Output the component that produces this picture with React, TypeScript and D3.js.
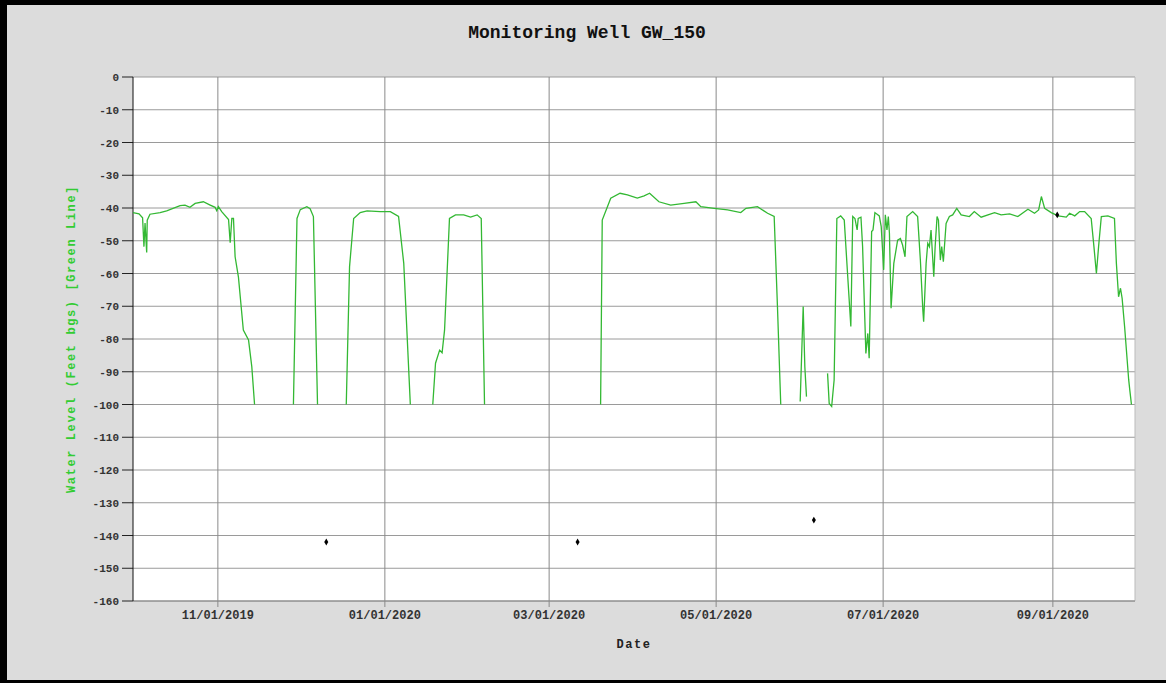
import React from "react";
import * as d3 from "d3";

const title = "Monitoring Well GW_150";
const xLabel = "Date";
const yLabel = "Water Level (Feet bgs) [Green Line]";
const startDate = "10/01/2019";
const endDate = "10/01/2020";
const xTickLabels = ["11/01/2019", "01/01/2020", "03/01/2020", "05/01/2020", "07/01/2020", "09/01/2020"];
const yTicks = [0, -10, -20, -30, -40, -50, -60, -70, -80, -90, -100, -110, -120, -130, -140, -150, -160];

// days since start date, null level = gap in the record
const days = [
  0, 2.2, 3.5, 4.0, 4.4, 5.0, 5.2, 6.2, 9.9, 12.3, 17.2, 19.0, 20.8, 22.7, 25.7, 28.2, 30.0, 30.6, 31.2, 32.4,
  34.9, 35.5, 36.1, 36.7, 37.3, 38.5, 40.3, 42.2, 43.4, 44.4, 50,
  58.6, 59.9, 61.1, 63.5, 64.7, 65.9, 67.4, 72,
  77.9, 79.1, 80.6, 83.0, 85.5, 90.3, 94.0, 97.0, 98.9, 101.3, 105,
  109.5, 110.5, 112.0, 112.9, 113.8, 115.6, 117.8, 120.8, 123.3, 125.7, 127.2, 128.4, 150,
  170.8, 171.4, 174.5, 177.9, 180.6, 184.2, 186.7, 188.7, 192.1, 196.4, 201.3, 205.6, 207.4, 212.3, 217.2,
  222.0, 223.9, 228.1, 231.8, 234.2, 235.4, 236.6, 240,
  243.7, 244.8, 245.4, 246.0, 250,
  253.7, 254.3, 255.2, 256.1, 257.1, 258.5, 259.8, 261.0, 262.2, 262.9, 263.7, 264.5, 264.9, 265.9, 266.5,
  267.7, 268.4, 268.9, 269.8, 270.3, 271.0, 272.6, 273.3, 274.2, 274.8, 275.4, 275.9, 276.3, 276.9, 277.9,
  279.3, 280.3, 281.1, 282.0, 282.7, 284.8, 286.6, 287.6, 288.5, 288.8, 289.7, 290.3, 290.9, 291.5, 292.5,
  293.0, 293.7, 294.2, 294.9, 295.4, 296.0, 297.0, 298.2, 299.4, 300.9, 302.5, 305.5, 307.3, 309.8, 314.7,
  317.1, 320.2, 323.2, 326.9, 329.3, 330.8, 331.8, 333.0, 335.4, 337.9, 340.9, 342.1, 344.0, 345.8, 347.6,
  350.0, 351.0, 351.9, 352.7, 353.7, 356.1, 358.5, 359.2, 360.0, 360.7, 361.3, 362.2, 363.7, 364.1, 364.7,
];
const levels = [
  -41.4, -41.8, -43, -51.8, -44.6, -53.6, -43.7, -41.9, -41.4, -40.9, -39.3, -39.1, -39.8, -38.6, -38.1, -39.1, -39.8, -40.8, -39.6, -41.1,
  -43.5, -50.6, -43.2, -43.2, -54.9, -61, -77.3, -80.3, -88.5, -100, null,
  -100, -43.2, -40.5, -39.6, -40.2, -42.6, -100, null,
  -100, -57.9, -43.2, -41.4, -40.9, -41.1, -41.1, -42.6, -56.9, -100, null,
  -100, -87.4, -83.4, -84.2, -77.3, -43.2, -42.1, -42.1, -42.8, -42.1, -43.2, -100, null,
  -100, -43.7, -37.0, -35.5, -36.0, -37.0, -36.3, -35.5, -38.1, -39.1, -38.6, -38.1, -39.6, -40.1, -40.6,
  -41.4, -40.1, -39.6, -41.6, -42.6, -70.1, -100, null,
  -99.1, -70.1, -88.5, -97.6, null,
  -90.5, -99.7, -100.6, -92.5, -43.2, -42.4, -43.7, -60, -76.2, -42.6, -43.2, -46.7, -43.2, -42.8, -51.8,
  -84.4, -78.3, -85.9, -47.2, -46.7, -41.4, -42.4, -45.7, -58.9, -42.1, -46.7, -42.6, -47.7, -70.6, -56.9,
  -49.8, -49.3, -51.3, -54.9, -42.6, -41.1, -42.6, -55.9, -71.1, -74.7, -56.9, -50.8, -51.8, -46.7, -61,
  -51.8, -42.6, -43.7, -55.9, -51.8, -56.4, -44.7, -42.6, -42.1, -40.1, -42.1, -42.6, -41.1, -42.8, -41.4,
  -42.1, -41.8, -42.6, -40.4, -41.6, -40.6, -36.5, -40.1, -41.4, -42.4, -42.8, -41.6, -42.4, -41.1, -41.1,
  -43.2, -51.8, -60, -51.8, -42.6, -42.4, -43.2, -56.9, -67.1, -64.5, -67.6, -76.2, -92.5, -95.6, -100,
];

// black point readings
const pointDays = [70.6, 162.4, 248.7, 337.6];
const pointLevels = [-142, -142, -135.3, -42.1];

const W = 1166;
const H = 683;
const margin = { left: 133, right: 31, top: 77, bottom: 82 };
const font = "'Liberation Mono', 'Courier New', monospace";

export default function App() {
  const parse = d3.timeParse("%m/%d/%Y");
  const t0 = parse(startDate)!;
  const t1 = parse(endDate)!;
  const toDate = (d: number) => new Date(t0.getTime() + d * 86400000);

  const x = d3.scaleTime().domain([t0, t1]).range([margin.left, W - margin.right]);
  const y = d3.scaleLinear().domain([-160, 0]).range([H - margin.bottom, margin.top]);

  const rows = days.map((d, i) => ({ date: toDate(d), level: levels[i] }));
  const line = d3
    .line<{ date: Date; level: number | null }>()
    .defined((d) => d.level !== null)
    .x((d) => x(d.date))
    .y((d) => y(d.level as number));

  const diamond = d3.symbol(d3.symbolDiamond, 14)();
  const xTicks = xTickLabels.map((s) => parse(s)!);
  const [x0, x1] = x.range();
  const [yb, yt] = y.range();

  return (
    <svg width={W} height={H} style={{ position: "absolute", left: 0, top: 0 }}>
      <rect x={0} y={0} width={W} height={H} fill="#dcdcdc" />
      <rect x={0} y={0} width={W} height={5} fill="#000" />
      <rect x={0} y={0} width={7} height={H} fill="#000" />
      <rect x={0} y={H - 3} width={W} height={3} fill="#000" />

      <text x={587} y={38} textAnchor="middle" fontFamily={font} fontWeight="bold" fontSize={18} fill="#111">
        {title}
      </text>

      <rect x={x0} y={yt} width={x1 - x0} height={yb - yt} fill="#fff" />

      {yTicks.map((v) => (
        <g key={v}>
          <line x1={x0} x2={x1} y1={y(v)} y2={y(v)} stroke="#9a9a9a" />
          <line x1={x0 - 11} x2={x0} y1={y(v)} y2={y(v)} stroke="#222" />
          <text x={x0 - 14} y={y(v) + 4} textAnchor="end" fontFamily={font} fontWeight="bold" fontSize={11} fill="#333">
            {v}
          </text>
        </g>
      ))}

      {xTicks.map((t, i) => (
        <g key={i}>
          <line x1={x(t)} x2={x(t)} y1={yt} y2={yb + 6} stroke="#8a8a8a" />
          <text x={x(t)} y={yb + 18} textAnchor="middle" fontFamily={font} fontWeight="bold" fontSize={12} fill="#333">
            {xTickLabels[i]}
          </text>
        </g>
      ))}

      <line x1={x1} x2={x1} y1={yt} y2={yb} stroke="#bbb" />
      <line x1={x0} x2={x1} y1={yb} y2={yb} stroke="#888" />
      <line x1={x0} x2={x0} y1={yt} y2={yb} stroke="#111" />

      <path d={line(rows) || ""} fill="none" stroke="#33b833" strokeWidth={1.3} />

      {pointDays.map((d, i) => (
        <path key={i} d={diamond || ""} transform={`translate(${x(toDate(d))},${y(pointLevels[i])})`} fill="#000" />
      ))}

      <text x={(x0 + x1) / 2} y={648} textAnchor="middle" fontFamily={font} fontWeight="bold" fontSize={12} letterSpacing={1.6} fill="#222">
        {xLabel}
      </text>
      <text
        transform={`translate(75,${(yt + yb) / 2}) rotate(-90)`}
        textAnchor="middle"
        fontFamily={font}
        fontWeight="bold"
        fontSize={12}
        letterSpacing={1.6}
        fill="#33cc33"
      >
        {yLabel}
      </text>
    </svg>
  );
}
